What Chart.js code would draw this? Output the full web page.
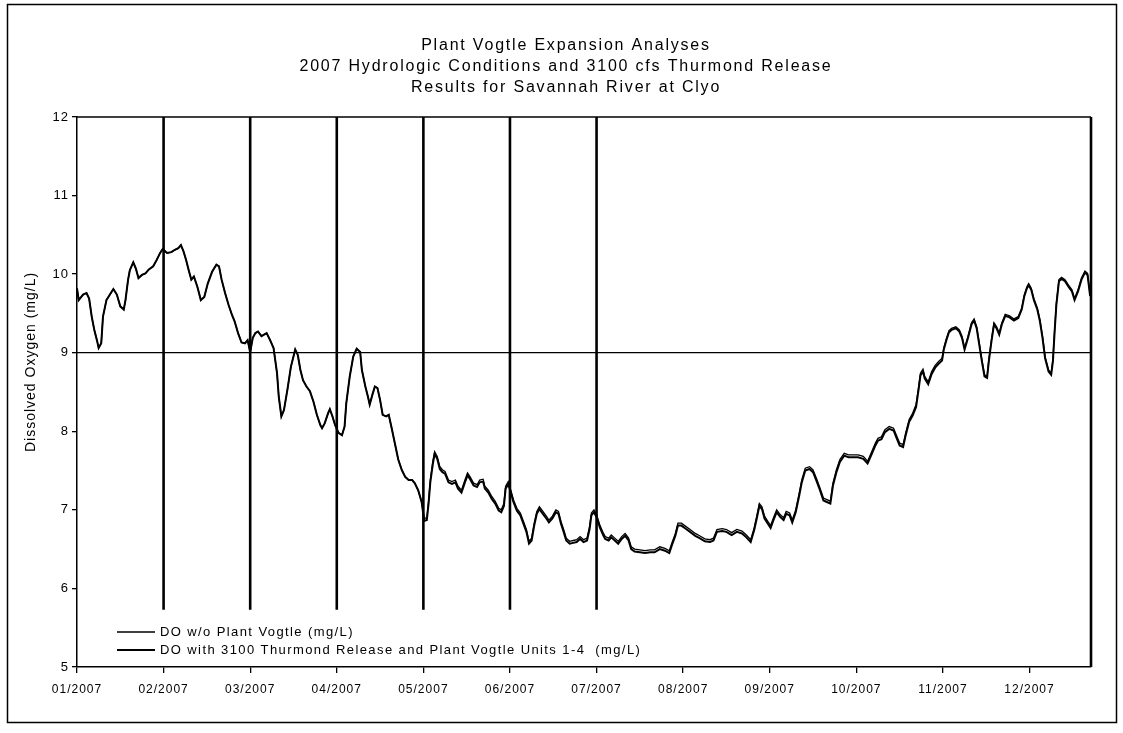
<!DOCTYPE html>
<html>
<head>
<meta charset="utf-8">
<script src="https://cdn.jsdelivr.net/npm/chart.js@4.4.1/dist/chart.umd.min.js"></script>
<style>
html,body{margin:0;padding:0;background:#fff;}
#wrap{position:relative;width:1123px;height:733px;}
canvas{display:block;}
</style>
</head>
<body>
<div id="wrap"><canvas id="c" width="1123" height="733"></canvas></div>
<script>
const titleLines = [
  'Plant Vogtle Expansion Analyses',
  '2007 Hydrologic Conditions and 3100 cfs Thurmond Release',
  'Results for Savannah River at Clyo'
];
const yAxisTitle = 'Dissolved Oxygen (mg/L)';
const monthLabels = ['01/2007','02/2007','03/2007','04/2007','05/2007','06/2007',
                     '07/2007','08/2007','09/2007','10/2007','11/2007','12/2007'];
const seriesNames = ['DO w/o Plant Vogtle (mg/L)',
                     'DO with 3100 Thurmond Release and Plant Vogtle Units 1-4  (mg/L)'];

// position along the time axis, in months since 01/2007
const monthPos = [
  0.00,0.02,0.07,0.11,0.14,0.17,0.20,0.23,0.25,0.28,0.30,0.34,0.38,0.42,0.46,0.50,0.54,0.56,0.59,0.61,0.65,0.68,0.71,0.75,0.79,0.83,0.88,0.92,0.96,0.99,
  1.04,1.09,1.13,1.17,1.20,1.23,1.26,1.29,1.32,1.35,1.39,1.43,1.47,1.51,1.56,1.61,1.64,1.67,1.71,1.75,1.79,1.82,1.86,1.90,1.94,1.97,2.00,
  2.03,2.06,2.09,2.13,2.16,2.19,2.23,2.27,2.31,2.33,2.36,2.39,2.43,2.47,2.52,2.55,2.58,2.61,2.65,2.69,2.73,2.77,2.81,2.83,2.86,2.90,2.92,2.95,2.98,
  3.02,3.06,3.09,3.11,3.15,3.19,3.23,3.27,3.29,3.33,3.36,3.38,3.41,3.44,3.47,3.50,3.53,3.57,3.60,3.63,3.67,3.71,3.75,3.79,3.83,3.87,3.90,3.94,3.98,
  4.01,4.04,4.06,4.08,4.11,4.13,4.16,4.19,4.22,4.25,4.29,4.33,4.37,4.40,4.44,4.48,4.51,4.54,4.58,4.62,4.65,4.69,4.71,4.75,4.79,4.83,4.87,4.90,4.93,4.95,4.98,
  5.01,5.04,5.08,5.12,5.15,5.19,5.22,5.25,5.28,5.31,5.34,5.38,5.42,5.45,5.49,5.53,5.56,5.59,5.62,5.65,5.69,5.73,5.77,5.81,5.85,5.89,5.92,5.94,5.97,6.00,
  6.04,6.08,6.10,6.14,6.17,6.21,6.25,6.29,6.33,6.37,6.40,6.44,6.50,6.56,6.62,6.67,6.73,6.79,6.84,6.87,6.91,6.94,6.98,
  7.03,7.08,7.14,7.19,7.25,7.31,7.35,7.39,7.45,7.50,7.56,7.62,7.68,7.73,7.78,7.82,7.85,7.88,7.91,7.94,7.98,
  8.01,8.05,8.08,8.12,8.16,8.19,8.23,8.26,8.30,8.34,8.37,8.41,8.46,8.50,8.54,8.58,8.62,8.66,8.70,8.73,8.77,8.81,8.86,8.91,8.96,
  9.02,9.08,9.13,9.17,9.22,9.25,9.29,9.33,9.38,9.43,9.47,9.50,9.54,9.57,9.61,9.65,9.69,9.72,9.74,9.77,9.79,9.83,9.87,9.91,9.95,9.99,
  10.01,10.04,10.07,10.10,10.15,10.19,10.22,10.25,10.29,10.33,10.36,10.39,10.42,10.45,10.48,10.51,10.53,10.56,10.59,10.62,10.65,10.68,10.72,10.77,10.82,10.87,10.91,10.94,10.97,10.99,
  11.02,11.05,11.09,11.12,11.15,11.18,11.22,11.25,11.27,11.29,11.31,11.34,11.37,11.41,11.45,11.49,11.52,11.56,11.60,11.64,11.67,11.70
];

// DO w/o Plant Vogtle (mg/L)
const doWithout = [
  9.82,9.67,9.74,9.76,9.69,9.46,9.29,9.16,9.06,9.12,9.46,9.67,9.74,9.81,9.74,9.59,9.55,9.67,9.93,10.05,10.15,10.07,9.95,9.99,10.01,10.06,10.10,10.18,10.27,10.32,
  10.27,10.28,10.31,10.33,10.37,10.29,10.18,10.05,9.93,9.97,9.84,9.67,9.71,9.88,10.03,10.12,10.10,9.93,9.76,9.61,9.48,9.40,9.25,9.13,9.12,9.16,9.01,
  9.19,9.25,9.27,9.21,9.23,9.25,9.16,9.06,8.74,8.44,8.19,8.27,8.53,8.82,9.04,8.97,8.78,8.65,8.57,8.51,8.38,8.21,8.08,8.04,8.10,8.23,8.28,8.19,8.08,
  7.98,7.95,8.06,8.36,8.70,8.95,9.05,9.01,8.78,8.57,8.44,8.34,8.46,8.57,8.55,8.40,8.21,8.19,8.21,8.06,7.85,7.64,7.51,7.42,7.38,7.38,7.34,7.25,7.10,
  6.89,6.90,7.11,7.38,7.62,7.74,7.68,7.55,7.51,7.49,7.38,7.36,7.38,7.30,7.25,7.38,7.47,7.42,7.34,7.32,7.38,7.39,7.30,7.25,7.17,7.11,7.02,7.00,7.08,7.30,7.36,
  7.25,7.13,7.02,6.96,6.87,6.75,6.60,6.64,6.83,6.98,7.04,6.98,6.92,6.87,6.92,7.00,6.98,6.85,6.75,6.64,6.60,6.61,6.62,6.66,6.62,6.64,6.79,6.96,7.00,6.94,
  6.80,6.70,6.66,6.64,6.68,6.64,6.60,6.66,6.70,6.64,6.53,6.50,6.49,6.48,6.49,6.49,6.53,6.51,6.48,6.58,6.70,6.83,6.83,
  6.79,6.75,6.70,6.67,6.63,6.62,6.64,6.75,6.76,6.75,6.71,6.75,6.73,6.68,6.62,6.77,6.92,7.08,7.04,6.92,6.85,
  6.80,6.92,7.00,6.94,6.90,6.98,6.96,6.87,7.00,7.21,7.38,7.53,7.55,7.51,7.40,7.28,7.15,7.13,7.11,7.34,7.51,7.64,7.72,7.70,7.70,
  7.70,7.68,7.62,7.72,7.85,7.91,7.93,8.02,8.06,8.04,7.93,7.85,7.83,7.98,8.15,8.23,8.34,8.57,8.74,8.79,8.70,8.63,8.76,8.84,8.89,8.93,
  9.06,9.18,9.28,9.31,9.33,9.29,9.21,9.06,9.21,9.38,9.43,9.33,9.12,8.91,8.72,8.70,8.91,9.16,9.38,9.33,9.25,9.38,9.49,9.47,9.43,9.46,9.57,9.74,9.84,9.88,
  9.82,9.69,9.57,9.42,9.21,8.95,8.78,8.74,8.91,9.29,9.63,9.93,9.96,9.93,9.86,9.80,9.69,9.80,9.95,10.04,10.01,9.74
];

// DO with 3100 Thurmond Release and Plant Vogtle Units 1-4 (mg/L)
const doWith = [
  9.82,9.67,9.74,9.76,9.69,9.46,9.29,9.16,9.06,9.12,9.46,9.67,9.74,9.81,9.74,9.59,9.55,9.67,9.93,10.05,10.15,10.07,9.95,9.99,10.01,10.06,10.10,10.18,10.27,10.32,
  10.27,10.28,10.31,10.33,10.37,10.29,10.18,10.05,9.93,9.97,9.84,9.67,9.71,9.88,10.03,10.12,10.10,9.93,9.76,9.61,9.48,9.40,9.25,9.13,9.12,9.16,9.01,
  9.19,9.25,9.27,9.21,9.23,9.25,9.16,9.06,8.74,8.44,8.19,8.27,8.53,8.82,9.04,8.97,8.78,8.65,8.57,8.51,8.38,8.21,8.08,8.04,8.10,8.23,8.28,8.19,8.08,
  7.98,7.95,8.06,8.36,8.70,8.95,9.05,9.01,8.78,8.57,8.44,8.34,8.46,8.57,8.55,8.40,8.21,8.19,8.21,8.06,7.85,7.64,7.51,7.42,7.38,7.38,7.34,7.25,7.10,
  6.86,6.87,7.08,7.35,7.59,7.71,7.65,7.52,7.48,7.46,7.35,7.33,7.35,7.27,7.22,7.35,7.44,7.39,7.31,7.29,7.35,7.36,7.27,7.22,7.14,7.08,6.99,6.97,7.05,7.27,7.33,
  7.22,7.10,6.99,6.93,6.84,6.72,6.57,6.61,6.80,6.95,7.01,6.95,6.89,6.84,6.89,6.97,6.95,6.82,6.72,6.61,6.57,6.58,6.59,6.63,6.59,6.61,6.76,6.93,6.97,6.91,
  6.77,6.67,6.63,6.61,6.65,6.61,6.57,6.63,6.67,6.61,6.50,6.47,6.46,6.45,6.46,6.46,6.50,6.48,6.45,6.55,6.67,6.80,6.80,
  6.76,6.72,6.67,6.64,6.60,6.59,6.61,6.72,6.73,6.72,6.68,6.72,6.70,6.65,6.59,6.74,6.89,7.05,7.01,6.89,6.82,
  6.77,6.89,6.97,6.91,6.87,6.95,6.93,6.84,6.97,7.18,7.35,7.50,7.52,7.48,7.37,7.25,7.12,7.10,7.08,7.31,7.48,7.61,7.69,7.67,7.67,
  7.67,7.65,7.59,7.69,7.82,7.88,7.90,7.99,8.03,8.01,7.90,7.82,7.80,7.95,8.12,8.20,8.31,8.54,8.71,8.76,8.67,8.60,8.73,8.81,8.86,8.90,
  9.04,9.16,9.26,9.29,9.31,9.27,9.19,9.04,9.19,9.36,9.41,9.31,9.10,8.89,8.70,8.68,8.89,9.14,9.36,9.31,9.23,9.36,9.47,9.45,9.41,9.44,9.55,9.72,9.82,9.86,
  9.80,9.67,9.55,9.40,9.19,8.93,8.76,8.72,8.89,9.27,9.61,9.91,9.94,9.91,9.84,9.78,9.67,9.78,9.93,10.02,9.99,9.72
];

// vertical reference lines at these month positions, spanning this DO range
const markerMonths = [1, 2, 3, 4, 5, 6];
const markerRange = [5.73, 12];
// horizontal DO reference level (mg/L)
const standardDO = 9;
const yMin = 5, yMax = 12;
const xMax = 11.71;

const FONT = '"Liberation Sans", Arial, Helvetica, sans-serif';

const datasets = [
  {
    label: seriesNames[0],
    data: monthPos.map((m, i) => ({x: m, y: doWithout[i]})),
    borderColor: '#000', borderWidth: 1.3, pointRadius: 0, tension: 0, order: 2
  },
  {
    label: seriesNames[1],
    data: monthPos.map((m, i) => ({x: m, y: doWith[i]})),
    borderColor: '#000', borderWidth: 2, pointRadius: 0, tension: 0, order: 1
  },
  {
    label: 'standard',
    data: [{x: 0, y: standardDO}, {x: xMax, y: standardDO}],
    borderColor: '#000', borderWidth: 1.2, pointRadius: 0, order: 3
  }
];
markerMonths.forEach(m => {
  datasets.push({
    label: 'marker',
    data: [{x: m, y: markerRange[0]}, {x: m, y: markerRange[1]}],
    borderColor: '#000', borderWidth: 2.6, pointRadius: 0, order: 4
  });
});

const decor = {
  id: 'decor',
  beforeDraw(chart) {
    const ctx = chart.ctx;
    ctx.save();
    ctx.fillStyle = '#fff';
    ctx.fillRect(0, 0, chart.width, chart.height);
    ctx.restore();
    ctx.letterSpacing = '1px';
  },
  afterDraw(chart) {
    const ctx = chart.ctx, a = chart.chartArea;
    ctx.save();
    ctx.strokeStyle = '#000';
    ctx.fillStyle = '#000';
    // outer frame
    ctx.lineWidth = 1.5;
    ctx.strokeRect(7.5, 4.5, 1109, 718);
    // plot area top and right borders
    ctx.lineWidth = 1.5;
    ctx.beginPath(); ctx.moveTo(a.left, a.top); ctx.lineTo(a.right, a.top); ctx.stroke();
    ctx.lineWidth = 2.6;
    ctx.beginPath(); ctx.moveTo(a.right, a.top); ctx.lineTo(a.right, a.bottom); ctx.stroke();
    // title
    ctx.font = '16px ' + FONT;
    ctx.letterSpacing = '1.8px';
    ctx.textAlign = 'center';
    ctx.textBaseline = 'middle';
    titleLines.forEach((t, i) => ctx.fillText(t, 566, 46 + i * 21));
    // y axis title
    ctx.save();
    ctx.font = '14px ' + FONT;
    ctx.letterSpacing = '1px';
    ctx.translate(31, 362);
    ctx.rotate(-Math.PI / 2);
    ctx.fillText(yAxisTitle, 0, 0);
    ctx.restore();
    // legend
    ctx.font = '13px ' + FONT;
    ctx.letterSpacing = '1.4px';
    ctx.textAlign = 'left';
    [0, 1].forEach(i => {
      const ds = chart.data.datasets[i];
      const y = 632 + i * 18;
      ctx.lineWidth = ds.borderWidth;
      ctx.beginPath(); ctx.moveTo(117, y); ctx.lineTo(155, y); ctx.stroke();
      ctx.fillText(ds.label, 160, y);
    });
    ctx.restore();
    ctx.letterSpacing = '0px';
  }
};

new Chart(document.getElementById('c'), {
  type: 'line',
  data: { datasets },
  options: {
    responsive: false,
    animation: false,
    devicePixelRatio: 1,
    parsing: true,
    layout: { padding: { top: 117, right: 32, bottom: 0, left: 0 } },
    plugins: { legend: { display: false }, title: { display: false }, tooltip: { enabled: false } },
    scales: {
      x: {
        type: 'linear',
        min: 0, max: xMax,
        afterBuildTicks: s => { s.ticks = monthLabels.map((_, i) => ({ value: i })); },
        afterFit: s => { s.height = 66; },
        ticks: {
          callback: v => monthLabels[v] ?? '',
          autoSkip: false, maxRotation: 0, minRotation: 0,
          color: '#000', font: { family: FONT, size: 12 }, padding: 9
        },
        grid: { display: true, drawOnChartArea: false, drawTicks: true, tickLength: 6, color: '#000', lineWidth: 1.3 },
        border: { display: true, color: '#000', width: 1.5 }
      },
      y: {
        min: yMin, max: yMax,
        afterFit: s => { s.width = 77; },
        ticks: { stepSize: 1, color: '#000', font: { family: FONT, size: 13 }, padding: 3 },
        grid: { display: true, drawOnChartArea: false, drawTicks: true, tickLength: 5, color: '#000', lineWidth: 1.3 },
        border: { display: true, color: '#000', width: 1.5 }
      }
    }
  },
  plugins: [decor]
});
</script>
</body>
</html>
